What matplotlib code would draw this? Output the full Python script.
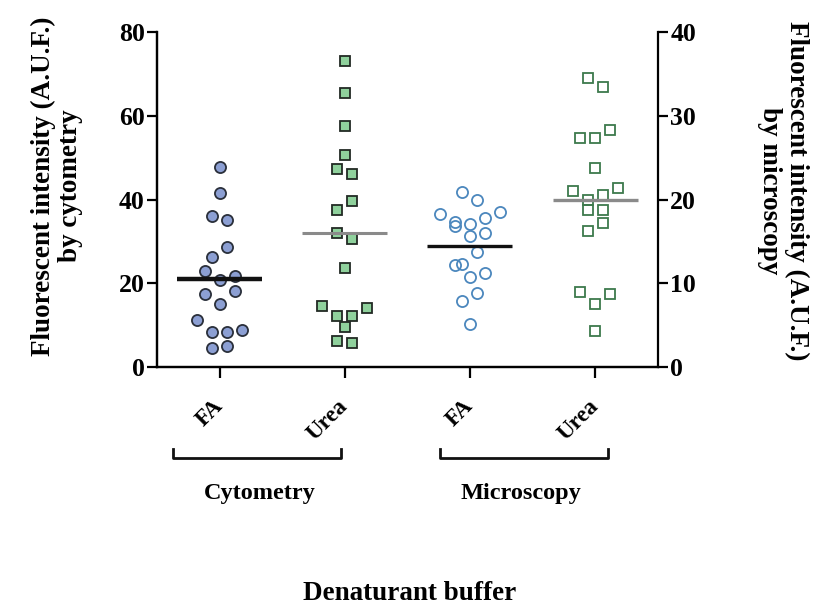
import numpy as np
import matplotlib
matplotlib.use("Agg")
from matplotlib import pyplot as plt
from matplotlib.transforms import blended_transform_factory

plt.rcParams["font.family"] = "Liberation Serif"
plt.rcParams["font.weight"] = "bold"

# cytometry readings (left axis, A.U.F.)
cyt_fa = [47.8, 41.5, 36.1, 35.2, 28.6, 26.2, 23.0, 21.7, 20.9,
          18.2, 17.5, 15.2, 11.2, 8.8, 8.4, 8.4, 5.0, 4.7]
cyt_urea = [73.1, 65.5, 57.5, 50.6, 47.2, 46.0, 39.6, 37.6, 32.1,
            30.5, 23.6, 14.6, 14.2, 12.2, 12.2, 9.5, 6.2, 5.8]
# microscopy readings (right axis, A.U.F.)
mic_fa = [20.9, 20.0, 18.5, 18.3, 17.8, 17.3, 17.1, 16.9, 16.0,
          15.7, 13.8, 12.3, 12.2, 11.3, 10.8, 8.9, 7.9, 5.1]
mic_urea = [34.5, 33.4, 28.3, 27.4, 27.4, 23.8, 21.4, 21.0, 20.6,
            20.0, 18.8, 18.8, 17.2, 16.2, 9.0, 8.7, 7.6, 4.3]

tick_names = ["FA", "Urea", "FA", "Urea"]
methods = ["Cytometry", "Microscopy"]

fig = plt.figure(figsize=(8.18, 6.04), dpi=100)
ax = fig.add_axes([0.192, 0.392, 0.612, 0.555])
ax2 = ax.twinx()

ax.set_xlim(-0.5, 3.5)
ax.set_ylim(0, 80)
ax2.set_ylim(0, 40)


def spread(axis, values, step_px=7.5, row_px=13.0):
    # group close values into rows, then spread each row symmetrically
    trans = axis.transData
    px_y = trans.transform((0, 1))[1] - trans.transform((0, 0))[1]
    px_x = trans.transform((1, 0))[0] - trans.transform((0, 0))[0]
    order = np.argsort(values, kind="stable")[::-1]
    rows = []
    for i in order:
        if rows and (values[rows[-1][0]] - values[i]) * px_y <= row_px:
            rows[-1].append(i)
        else:
            rows.append([i])
    offs = np.zeros(len(values))
    side = 1
    for row in rows:
        n = len(row)
        slots = [(k - (n - 1) / 2) * 2 * step_px for k in range(n)]
        slots.sort(key=lambda s: (-abs(s), s * side))
        for i, s in zip(row, slots):
            offs[i] = s / px_x
        side = -side
    return offs


def column(axis, pos, values, marker, face, edge, ms, mean_color, mean_lw):
    offs = spread(axis, values)
    axis.plot(pos + offs, values, linestyle="none", marker=marker, ms=ms,
              mfc=face, mec=edge, mew=1.3, clip_on=False, zorder=3)
    m = np.mean(values)
    axis.plot([pos - 0.34, pos + 0.34], [m, m], color=mean_color,
              lw=mean_lw, solid_capstyle="butt", zorder=4)


column(ax, 0, cyt_fa, "o", "#8c9fd3", "#2a2f3a", 8, "#111111", 3.2)
column(ax, 1, cyt_urea, "s", "#8fd19c", "#222a24", 7, "#8a8a8a", 2.2)
column(ax2, 2, mic_fa, "o", "none", "#4b87bd", 8, "#111111", 2.4)
column(ax2, 3, mic_urea, "s", "none", "#3d7a4c", 7.5, "#8a8a8a", 2.4)

for a in (ax, ax2):
    for s in a.spines.values():
        s.set_linewidth(1.6)
    a.spines["top"].set_visible(False)
ax.spines["right"].set_visible(False)

ax.set_yticks([0, 20, 40, 60, 80])
ax2.set_yticks([0, 10, 20, 30, 40])
ax.set_xticks(range(4))
ax.set_xticklabels(tick_names, rotation=45, ha="right", va="center",
                   rotation_mode="anchor")
ax.tick_params(axis="x", length=8, width=1.6, pad=18, labelsize=16.5)
ax.tick_params(axis="y", length=7, width=1.6, pad=2, labelsize=18.5)
ax2.tick_params(axis="y", length=7, width=1.6, pad=2, labelsize=18.5)

# group brackets under the x tick labels
tr = blended_transform_factory(ax.transData, ax.transAxes)
brackets = [(-0.375, 0.97), (1.76, 3.1)]
label_x = [0.32, 2.41]
for (x0, x1), name, lx in zip(brackets, methods, label_x):
    ax.plot([x0, x0, x1, x1], [-0.245, -0.272, -0.272, -0.245], color="#111111",
            lw=2.0, transform=tr, clip_on=False)
    ax.text(lx, -0.378, name, transform=tr, ha="center", va="center",
            fontsize=17.5, fontweight="bold")

fig.text(0.0697, 1 - 186 / 604, "Fluorescent intensity (A.U.F.)\nby cytometry",
         rotation=90, ha="center", va="center", fontsize=19.5,
         fontweight="bold", linespacing=1.1)
fig.text(0.957, 1 - 191 / 604, "Fluorescent intensity (A.U.F.)\nby microscopy",
         rotation=270, ha="center", va="center", fontsize=19.5,
         fontweight="bold", linespacing=1.1)
fig.text(0.501, 0.018, "Denaturant buffer", ha="center", va="center",
         fontsize=19.5, fontweight="bold")

fig.savefig("out.png", dpi=100)
